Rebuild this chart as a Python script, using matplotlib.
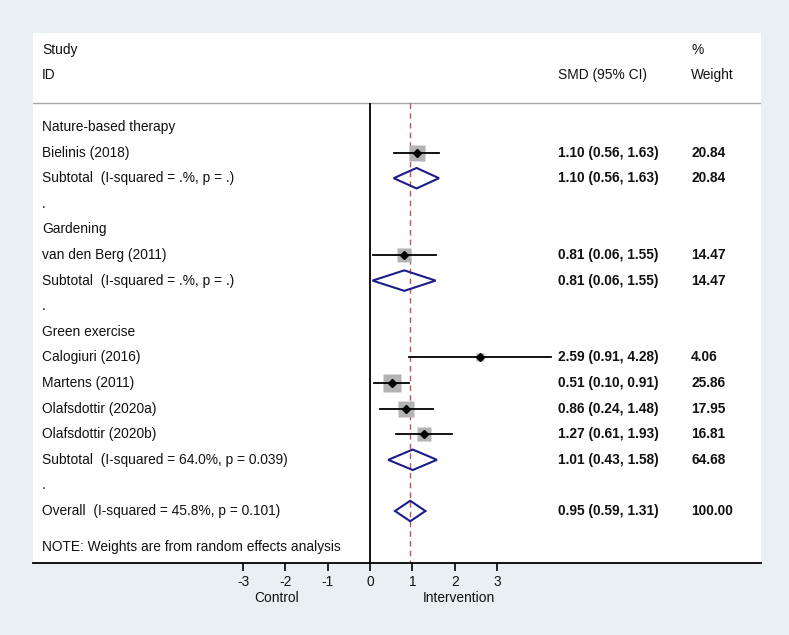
import matplotlib
matplotlib.use("Agg")
import matplotlib.pyplot as plt
from matplotlib.patches import Polygon

plt.rcParams['font.family'] = ['Liberation Sans', 'DejaVu Sans']

# ---- data ----
row_labels = ["Nature-based therapy", "Bielinis (2018)", "Subtotal  (I-squared = .%, p = .)", ".",
              "Gardening", "van den Berg (2011)", "Subtotal  (I-squared = .%, p = .)", ".",
              "Green exercise", "Calogiuri (2016)", "Martens (2011)", "Olafsdottir (2020a)",
              "Olafsdottir (2020b)", "Subtotal  (I-squared = 64.0%, p = 0.039)", ".",
              "Overall  (I-squared = 45.8%, p = 0.101)"]
row_kind = ["group", "study", "sub", "blank",
            "group", "study", "sub", "blank",
            "group", "study", "study", "study", "study", "sub", "blank",
            "overall"]
smd = [None, 1.10, 1.10, None, None, 0.81, 0.81, None, None, 2.59, 0.51, 0.86, 1.27, 1.01, None, 0.95]
ci_low = [None, 0.56, 0.56, None, None, 0.06, 0.06, None, None, 0.91, 0.10, 0.24, 0.61, 0.43, None, 0.59]
ci_high = [None, 1.63, 1.63, None, None, 1.55, 1.55, None, None, 4.28, 0.91, 1.48, 1.93, 1.58, None, 1.31]
weights = [None, 20.84, 20.84, None, None, 14.47, 14.47, None, None, 4.06, 25.86, 17.95, 16.81, 64.68, None, 100.00]
x_ticks = [-3, -2, -1, 0, 1, 2, 3]
overall_effect = 0.95

# ---- figure ----
W, H, DPI = 789, 635, 100
bg = "#e9f0f2"
fig = plt.figure(figsize=(W / DPI, H / DPI), dpi=DPI, facecolor=bg)
ax = fig.add_axes([33 / W, 1 - 563 / H, (761 - 33) / W, (563 - 33) / H])
ax.set_facecolor("white")

px_per_unit = 42.33
ax.set_xlim((33 - 370) / px_per_unit, (761 - 370) / px_per_unit)
row_px = 25.6
ax.set_ylim((563 - 127) / row_px, (33 - 127) / row_px)

fs = 9.9
txt_color = "#111111"

for s in ["top", "left", "right"]:
    ax.spines[s].set_visible(False)
ax.spines["bottom"].set_linewidth(1.3)
ax.set_yticks([])
ax.set_xticks(x_ticks)
ax.set_xticklabels([str(t) for t in x_ticks], fontsize=fs, color=txt_color)
ax.tick_params(axis="x", direction="out", length=6, width=1.2, pad=3)

sep_y = (103 - 127) / row_px
bottom_y = (563 - 127) / row_px
x_label = (42 - 370) / px_per_unit
x_smd = (558 - 370) / px_per_unit
x_w = (691 - 370) / px_per_unit

# header
ax.text(x_label, (50 - 127) / row_px, "Study", fontsize=fs, va="center", color=txt_color)
ax.text(x_label, (75 - 127) / row_px, "ID", fontsize=fs, va="center", color=txt_color)
ax.text(x_smd, (75 - 127) / row_px, "SMD (95% CI)", fontsize=fs, va="center", color=txt_color)
ax.text(x_w, (50 - 127) / row_px, "%", fontsize=fs, va="center", color=txt_color)
ax.text(x_w, (75 - 127) / row_px, "Weight", fontsize=fs, va="center", color=txt_color)
ax.axhline(sep_y, color="#a8a8a8", lw=1.0)

# reference lines
ax.vlines(0, sep_y, bottom_y, color="black", lw=1.3, zorder=2)
ax.vlines(overall_effect, sep_y, bottom_y, color="#c4505a", lw=1.0,
          linestyles=(0, (4, 3)), zorder=2)

navy = "#1c1c8c"
half_h = 0.4
for i, (lab, kind) in enumerate(zip(row_labels, row_kind)):
    ax.text(x_label, i, lab, fontsize=fs, va="center", color=txt_color)
    if smd[i] is None:
        continue
    if kind == "study":
        side = 2.6 * weights[i] ** 0.5
        ax.plot([smd[i]], [i], marker="s", ms=side, color="#b3b3b3", mec="none", zorder=3)
        ax.plot([ci_low[i], ci_high[i]], [i, i], color="black", lw=1.3, zorder=4)
        ax.plot([smd[i]], [i], marker="D", ms=3.8, color="black", zorder=5)
    else:
        poly = Polygon([[ci_low[i], i], [smd[i], i - half_h], [ci_high[i], i], [smd[i], i + half_h]],
                       closed=True, fill=False, edgecolor=navy, lw=1.5, zorder=4)
        ax.add_patch(poly)
    ax.text(x_smd, i, f"{smd[i]:.2f} ({ci_low[i]:.2f}, {ci_high[i]:.2f})", fontsize=fs,
            va="center", color=txt_color, fontweight="bold")
    ax.text(x_w, i, f"{weights[i]:.2f}", fontsize=fs, va="center", color=txt_color,
            fontweight="bold")

ax.text(x_label, (547 - 127) / row_px, "NOTE: Weights are from random effects analysis",
        fontsize=fs, va="center", color=txt_color)

# direction labels under axis
ax.text(-2.2, (598 - 127) / row_px, "Control", fontsize=fs, ha="center", va="center",
        clip_on=False, color=txt_color)
ax.text(2.1, (598 - 127) / row_px, "Intervention", fontsize=fs, ha="center", va="center",
        clip_on=False, color=txt_color)

fig.savefig("out.png", dpi=DPI, facecolor=bg)
